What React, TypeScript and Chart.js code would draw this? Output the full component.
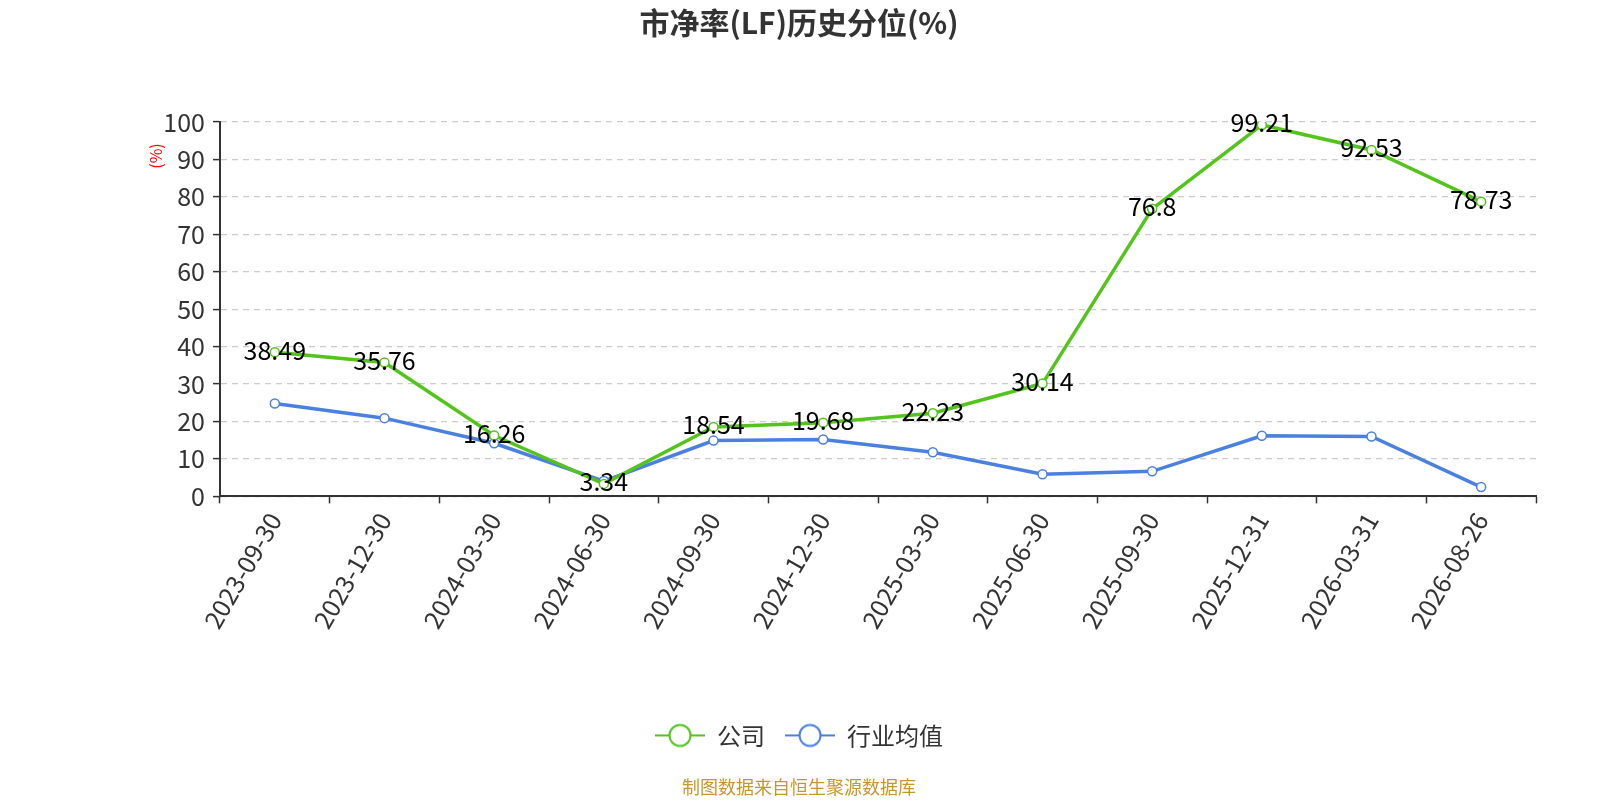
import { useEffect, useRef } from 'react';
import { Chart, registerables, type Plugin } from 'chart.js';

Chart.register(...registerables);

const categories = [
  '2023-09-30', '2023-12-30', '2024-03-30', '2024-06-30', '2024-09-30', '2024-12-30',
  '2025-03-30', '2025-06-30', '2025-09-30', '2025-12-31', '2026-03-31', '2026-08-26',
];
const companyValues = [38.49, 35.76, 16.26, 3.34, 18.54, 19.68, 22.23, 30.14, 76.8, 99.21, 92.53, 78.73];
const industryValues = [24.8, 20.9, 14.2, 4.1, 14.9, 15.2, 11.8, 5.9, 6.7, 16.2, 16.0, 2.5];

const GREEN = '#52c41a';
const BLUE = '#4a80e0';
const FONT = '"Noto Sans CJK SC", "Noto Sans", sans-serif';

function legendIcon(color: string): HTMLCanvasElement {
  const c = document.createElement('canvas');
  c.width = 50;
  c.height = 28;
  const ctx = c.getContext('2d')!;
  ctx.strokeStyle = color;
  ctx.lineWidth = 2;
  ctx.beginPath();
  ctx.moveTo(0, 14);
  ctx.lineTo(50, 14);
  ctx.stroke();
  ctx.beginPath();
  ctx.arc(25, 14, 10.5, 0, Math.PI * 2);
  ctx.fillStyle = '#fff';
  ctx.fill();
  ctx.stroke();
  return c;
}

// value labels on the company line + the red "(%)" axis note
const labelPlugin: Plugin<'line'> = {
  id: 'valueLabels',
  afterDatasetsDraw(chart) {
    const { ctx, chartArea } = chart;
    const meta = chart.getDatasetMeta(0);
    ctx.save();
    ctx.font = `25px ${FONT}`;
    ctx.fillStyle = '#000';
    ctx.textAlign = 'center';
    ctx.textBaseline = 'middle';
    meta.data.forEach((pt, i) => {
      ctx.fillText(String(companyValues[i]), pt.x, pt.y - 2);
    });
    ctx.translate(chartArea.left - 64, chartArea.top + 34);
    ctx.rotate(-Math.PI / 2);
    ctx.font = `16px ${FONT}`;
    ctx.fillStyle = '#ff0000';
    ctx.fillText('(%)', 0, 0);
    ctx.restore();
  },
};

export default function App() {
  const canvasRef = useRef<HTMLCanvasElement>(null);

  useEffect(() => {
    if (canvasRef.current === null) return undefined;
    const icons = [legendIcon(GREEN), legendIcon(BLUE)];
    const chart = new Chart(canvasRef.current, {
      type: 'line',
      data: {
        labels: categories,
        datasets: [
          {
            label: '公司',
            data: companyValues,
            borderColor: GREEN,
            backgroundColor: '#fff',
            borderWidth: 3.5,
            pointRadius: 4.5,
            pointBorderWidth: 1.5,
            pointBackgroundColor: '#fff',
            pointBorderColor: GREEN,
            tension: 0,
          },
          {
            label: '行业均值',
            data: industryValues,
            borderColor: BLUE,
            backgroundColor: '#fff',
            borderWidth: 3.5,
            pointRadius: 4.5,
            pointBorderWidth: 1.5,
            pointBackgroundColor: '#fff',
            pointBorderColor: BLUE,
            tension: 0,
          },
        ],
      },
      options: {
        responsive: true,
        maintainAspectRatio: false,
        animation: false,
        layout: { padding: { left: 62, right: 64, top: 0, bottom: 0 } },
        scales: {
          x: {
            offset: true,
            grid: { display: true, offset: true, drawOnChartArea: false, drawTicks: true, tickLength: 7, tickColor: '#333', tickWidth: 1.5 },
            border: { display: true, color: '#333', width: 2 },
            ticks: { minRotation: 60, maxRotation: 60, autoSkip: false, color: '#333', font: { family: FONT, size: 25 }, padding: 4 },
            afterFit: (s) => { s.height = 207; },
          },
          y: {
            min: 0,
            max: 100,
            grid: { color: '#cccccc', lineWidth: 1.2, drawTicks: true, tickLength: 7, tickColor: '#333', tickWidth: 1.5 },
            border: { display: true, color: '#333', width: 2, dash: [6, 5] },
            ticks: { stepSize: 10, color: '#333', font: { family: FONT, size: 25 }, padding: 8 },
            afterFit: (s) => { s.width = 158; },
          },
        },
        plugins: {
          title: {
            display: true,
            text: '市净率(LF)历史分位(%)',
            color: '#333',
            font: { family: FONT, size: 30, weight: 'bold' },
            padding: { top: 4.5, bottom: 81.5 },
          },
          subtitle: {
            display: true,
            position: 'bottom',
            text: '制图数据来自恒生聚源数据库',
            color: '#c8962e',
            font: { family: FONT, size: 18 },
            padding: { top: 19, bottom: 2 },
          },
          legend: {
            position: 'bottom',
            labels: {
              usePointStyle: true,
              pointStyleWidth: 50,
              padding: 20,
              color: '#333',
              font: { family: FONT, size: 24 },
              generateLabels: (c) =>
                Chart.defaults.plugins.legend.labels.generateLabels(c).map((item, i) => ({
                  ...item,
                  pointStyle: icons[i] ?? icons[0]!,
                })),
            },
          },
          tooltip: { enabled: false },
        },
      },
      plugins: [labelPlugin],
    });
    return () => { chart.destroy(); };
  }, []);

  return (
    <div style={{ position: 'absolute', left: 0, top: 0, width: 1600, height: 800, background: '#fff' }}>
      <canvas ref={canvasRef} />
    </div>
  );
}
